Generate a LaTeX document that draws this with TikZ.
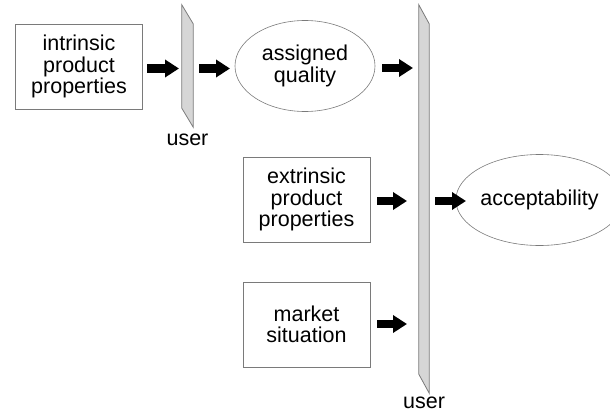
\documentclass[tikz,border=0pt]{standalone}
\usepackage{fontspec}
\setmainfont{Liberation Sans}
\usetikzlibrary{arrows.meta,shapes.geometric,calc}
\definecolor{edgegray}{HTML}{7A7A7A}
\definecolor{panelfill}{HTML}{D6D6D6}
\tikzset{
  lbl/.style={font=\fontsize{21.5}{21.5}\selectfont, align=center, inner sep=0pt},
  boxnode/.style={lbl, draw=edgegray, line width=0.9pt, minimum width=127pt, minimum height=85pt},
  ellnode/.style={lbl, ellipse, draw=edgegray, line width=0.6pt, minimum width=140pt, minimum height=91pt},
  panelref/.style={inner sep=0pt, minimum width=11pt},
  panelshape/.style={draw=edgegray, fill=panelfill, line width=0.8pt},
  blockarrow/.style={line width=8pt, -{Triangle[length=14pt,width=17pt]}},
}
\begin{document}
\begin{tikzpicture}[x=1pt,y=-1pt]
\useasboundingbox (0,0) rectangle (610,412);
% nodes
\node[boxnode] (intr) at (79,66.5) {intrinsic\\product\\properties};
\node[panelref, minimum height=122pt] (u1) at (187.5,66) {};
\node[ellnode] (aq) at (305,66) {assigned\\quality};
\node[boxnode] (extr) at (306.5,199.5) {extrinsic\\product\\properties};
\node[boxnode] (mark) at (306.5,324.5) {market\\situation};
\node[panelref, minimum height=388pt, minimum width=10pt] (u2) at (424,199) {};
\node[ellnode] (acc) at (539.5,200) {acceptability};
\node[lbl] (ul1) at (187.5,140) {user};
\node[lbl] (ul2) at (424,402.5) {user};
% panels
\draw[panelshape] (u1.north west) -- ($(u1.north east)+(0,19)$) -- (u1.south east) -- ($(u1.south west)+(0,-19)$) -- cycle;
\draw[panelshape] (u2.north west) -- ($(u2.north east)+(0,19)$) -- (u2.south east) -- ($(u2.south west)+(0,-19)$) -- cycle;
% arrows
\coordinate (a1s) at (147,68.5); \coordinate (a1e) at (179,68.5);
\coordinate (a2s) at (199,68.5); \coordinate (a2e) at (230,68.5);
\coordinate (a3s) at (382,68); \coordinate (a3e) at (413,68);
\coordinate (a4s) at (377,201); \coordinate (a4e) at (407,201);
\coordinate (a5s) at (377,324); \coordinate (a5e) at (407,324);
\coordinate (a6s) at (435,201); \coordinate (a6e) at (466,201);
\draw[blockarrow] (a1s) -- (a1e);
\draw[blockarrow] (a2s) -- (a2e);
\draw[blockarrow] (a3s) -- (a3e);
\draw[blockarrow] (a4s) -- (a4e);
\draw[blockarrow] (a5s) -- (a5e);
\draw[blockarrow] (a6s) -- (a6e);
\end{tikzpicture}
\end{document}
